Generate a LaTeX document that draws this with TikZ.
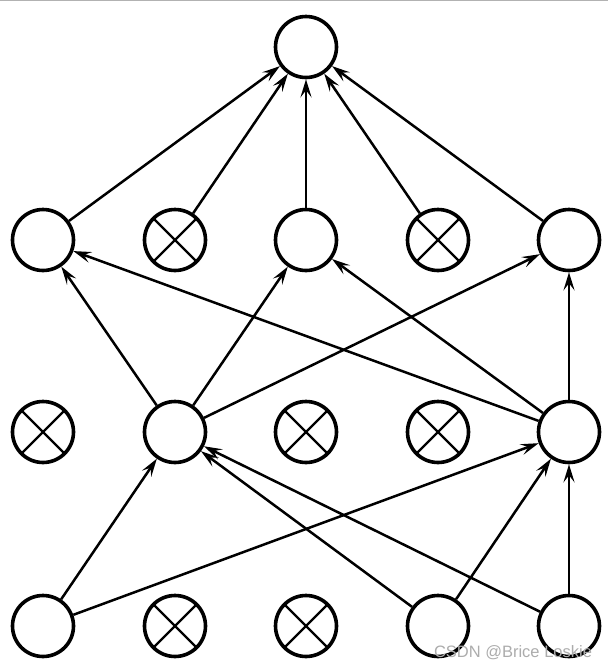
\documentclass[tikz,border=0pt]{standalone}
\usepackage{fontspec}
\newfontfamily\wmfont{Liberation Sans}
\usetikzlibrary{arrows.meta}
\tikzset{
  unit/.style={circle, draw, line width=3.6pt, minimum size=61pt, inner sep=0pt, fill=white},
  dropped/.style={unit, path picture={
      \draw[line width=2.4pt] (path picture bounding box.south west) -- (path picture bounding box.north east);
      \draw[line width=2.4pt] (path picture bounding box.north west) -- (path picture bounding box.south east);}},
  conn/.style={line width=2.5pt, -{Stealth[length=18pt,width=11pt,inset=7pt]}}
}
\begin{document}
\begin{tikzpicture}[x=1pt,y=-1pt]
\useasboundingbox (0,0) rectangle (608,670);
\draw[gray!60, line width=1pt] (0,0.5) -- (608,0.5);
% top
\node[unit] (t) at (306,47) {};
% row 2
\node[unit] (a1) at (43,240) {};
\node[dropped] (a2) at (175,240) {};
\node[unit] (a3) at (306,240) {};
\node[dropped] (a4) at (438,240) {};
\node[unit] (a5) at (569,240) {};
% row 3
\node[dropped] (b1) at (43,432) {};
\node[unit] (b2) at (175,432) {};
\node[dropped] (b3) at (306,432) {};
\node[dropped] (b4) at (438,432) {};
\node[unit] (b5) at (569,432) {};
% bottom
\node[unit] (c1) at (43,626) {};
\node[dropped] (c2) at (175,626) {};
\node[dropped] (c3) at (306,626) {};
\node[unit] (c4) at (438,626) {};
\node[unit] (c5) at (569,626) {};
% edges bottom -> row 3
\draw[conn] (c1) -- (b2);
\draw[conn] (c1) -- (b5);
\draw[conn] (c4) -- (b2);
\draw[conn] (c4) -- (b5);
\draw[conn] (c5) -- (b2);
\draw[conn] (c5) -- (b5);
% row 3 -> row 2
\draw[conn] (b2) -- (a1);
\draw[conn] (b2) -- (a3);
\draw[conn] (b2) -- (a5);
\draw[conn] (b5) -- (a1);
\draw[conn] (b5) -- (a3);
\draw[conn] (b5) -- (a5);
% row 2 -> top
\draw[conn] (a1) -- (t);
\draw[conn] (a2) -- (t);
\draw[conn] (a3) -- (t);
\draw[conn] (a4) -- (t);
\draw[conn] (a5) -- (t);
\node[text=gray!65, font=\wmfont\fontsize{16.5}{16.5}\selectfont, inner sep=0pt] (wm) at (513,653) {CSDN @Brice Loskie};
\end{tikzpicture}
\end{document}
